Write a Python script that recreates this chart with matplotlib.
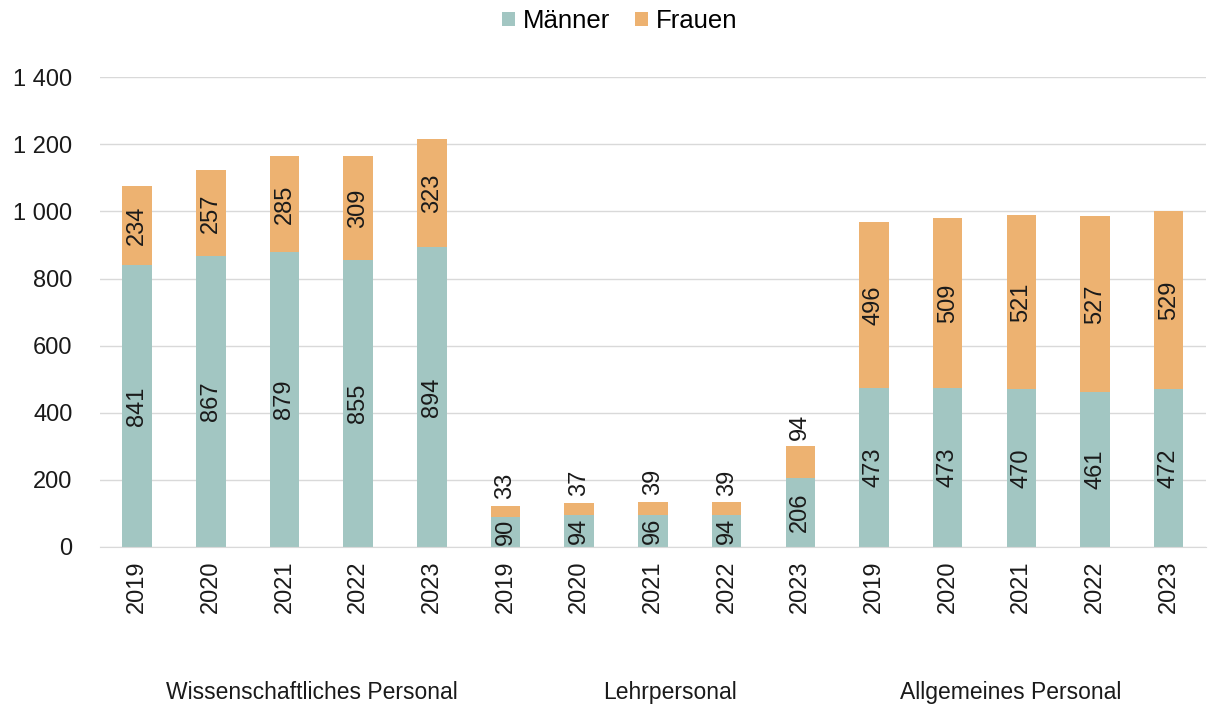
import matplotlib.pyplot as plt
import numpy as np
from matplotlib.ticker import FuncFormatter

plt.rcParams['font.family'] = ['Liberation Sans', 'DejaVu Sans']

groups = ['Wissenschaftliches Personal', 'Lehrpersonal', 'Allgemeines Personal']
years = ['2019', '2020', '2021', '2022', '2023']
maenner = [841, 867, 879, 855, 894,
           90, 94, 96, 94, 206,
           473, 473, 470, 461, 472]
frauen = [234, 257, 285, 309, 323,
          33, 37, 39, 39, 94,
          496, 509, 521, 527, 529]

c_m = '#A2C6C2'
c_f = '#EDB271'

fig = plt.figure(figsize=(12.08, 7.09), dpi=100)
ax = fig.add_axes([0.083, 0.2285, 0.915, 0.6625])

x = np.arange(len(maenner))
m = np.array(maenner)
f = np.array(frauen)
ax.bar(x, m, width=0.4, color=c_m, label='Männer', zorder=2)
ax.bar(x, f, width=0.4, bottom=m, color=c_f, label='Frauen', zorder=2)

for i in range(len(x)):
    ax.text(x[i], m[i] / 2, str(m[i]), rotation=90, ha='center', va='center',
            fontsize=17, color='#1a1a1a', zorder=3)
    if f[i] < 100:
        ax.text(x[i], m[i] + f[i] + 20, str(f[i]), rotation=90, ha='center',
                va='bottom', fontsize=17, color='#1a1a1a', zorder=3)
    else:
        ax.text(x[i], m[i] + f[i] / 2, str(f[i]), rotation=90, ha='center',
                va='center', fontsize=17, color='#1a1a1a', zorder=3)

ax.set_ylim(0, 1400)
ax.set_xlim(-0.5, len(x) - 0.5)
ax.set_yticks(range(0, 1401, 200))
ax.yaxis.set_major_formatter(FuncFormatter(lambda v, p: f'{int(v):,}'.replace(',', ' ')))
ax.set_xticks(x)
ax.set_xticklabels(years * 3, rotation=90)
ax.tick_params(axis='both', length=0, labelsize=17, colors='#1a1a1a')
ax.tick_params(axis='x', pad=10)
ax.tick_params(axis='y', pad=20)
ax.grid(axis='y', color='#d9d9d9', linewidth=1, zorder=0)
for s in ['top', 'right', 'left']:
    ax.spines[s].set_visible(False)
ax.spines['bottom'].set_color('#d9d9d9')

group_x = [2.37, 7.23, 11.85]
for gx, name in zip(group_x, groups):
    ax.text(gx, -0.31, name, transform=ax.get_xaxis_transform(),
            ha='center', va='center', fontsize=16.5, color='#1a1a1a')

ax.legend(loc='lower center', bbox_to_anchor=(0.47, 1.045), ncol=2, frameon=False,
          fontsize=18.5, handlelength=0.5, handleheight=0.5, handletextpad=0.3,
          columnspacing=1.0)

fig.savefig('out.png', dpi=100)
